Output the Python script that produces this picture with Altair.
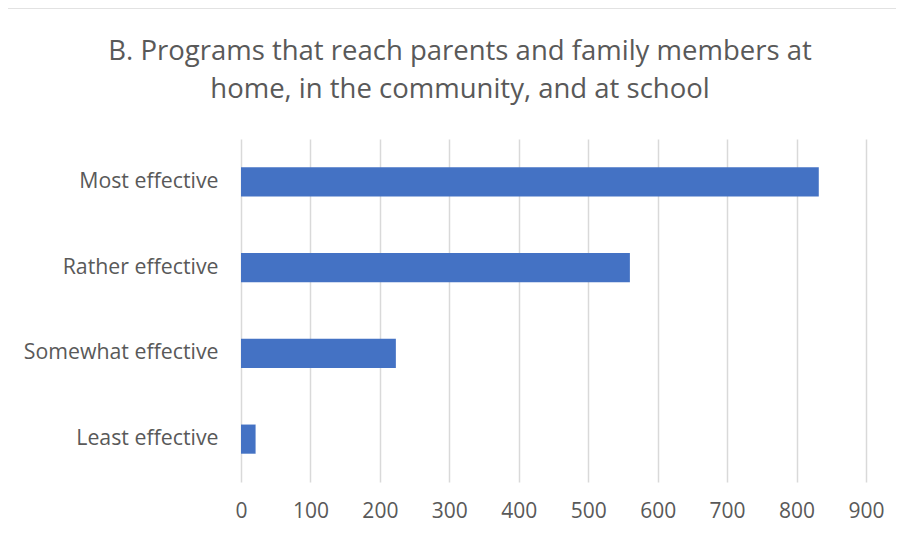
import altair as alt
import pandas as pd

categories = ["Most effective", "Rather effective", "Somewhat effective", "Least effective"]
values = [832, 560, 223, 21]
x_ticks = [0, 100, 200, 300, 400, 500, 600, 700, 800, 900]
title_lines = ["B. Programs that reach parents and family members at",
               "home, in the community, and at school"]

df = pd.DataFrame({"category": categories, "count": values})

W, H = 625, 343
grey = "#595959"
font = "Open Sans"

bars = alt.Chart(df).mark_bar(color="#4472C4").encode(
    y=alt.Y("category:N", sort=categories, title=None,
            scale=alt.Scale(paddingInner=0.66, paddingOuter=0.33),
            axis=alt.Axis(labelFontSize=21.3, labelColor=grey, labelFont=font,
                          labelLimit=400, ticks=False, domain=False,
                          labelPadding=23, grid=False)),
    x=alt.X("count:Q", title=None,
            scale=alt.Scale(domain=[0, 900], nice=False),
            axis=alt.Axis(values=x_ticks, labelFontSize=21, labelColor=grey, labelFont=font,
                          ticks=False, domain=False, labelPadding=18, labelFlush=False,
                          grid=True, gridColor="#d9d9d9", gridWidth=1.5)),
)

border = alt.Chart(alt.Data(values=[{}])).mark_rect(
    fillOpacity=0, stroke="#d9d9d9", strokeWidth=1.5, clip=False
).encode(
    x=alt.value(-237), x2=alt.value(W + 200),
    y=alt.value(-131), y2=alt.value(H + 200),
)

title = alt.Chart(alt.Data(values=[{}])).mark_text(
    text=title_lines, font=font, fontSize=27.5, color=grey,
    align="center", baseline="alphabetic", lineHeight=38, clip=False,
).encode(x=alt.value(219), y=alt.value(-79))

chart = alt.layer(border, title, bars).properties(
    width=W, height=H,
    autosize=alt.AutoSizeParams(type="none"),
    padding={"left": 233, "top": 131, "right": 30, "bottom": 49},
).configure_view(stroke=None)

chart.save("out.html", embed_options={"renderer": "svg", "actions": False})
